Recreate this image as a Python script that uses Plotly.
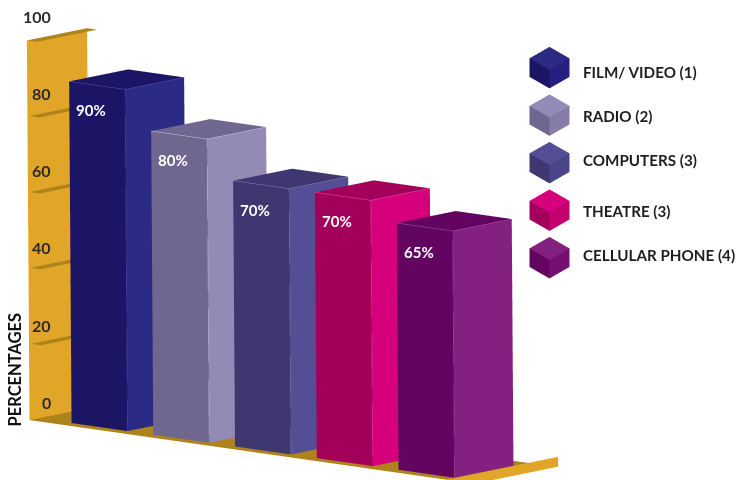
import plotly.graph_objects as go
import math

categories = ["FILM/ VIDEO (1)", "RADIO (2)", "COMPUTERS (3)", "THEATRE (3)", "CELLULAR PHONE (4)"]
values = [90, 80, 70, 70, 65]
value_labels = ["90%", "80%", "70%", "70%", "65%"]
tick_values = [100, 80, 60, 40, 20, 0]
front_colors = ["#1C1566", "#6F678F", "#3F3770", "#A3005C", "#640461"]
side_colors = ["#2B2A85", "#938BB5", "#544F95", "#D6007D", "#842080"]
legend_mid_colors = ["#232080", "#857CA8", "#4A4488", "#C4006F", "#751070"]
edge_colors = ["#5A58A8", "#D5D0E5", "#8F8BC0", "#E860A8", "#B060B0"]
WALL = "#E1A527"
FLOOR = "#AF831B"

EYE_LEN = 2.0
PX_PER_UNIT = 400 / 1.696
PAGE = 8  # the page's own margin round the figure
FIG_W, FIG_H = 748 - PAGE, 480 - PAGE
LEAN = 0.00045  # verticals converge slightly downward in the reference


def prism(x0, x1, y0, y1, z0, z1, front, side, top, lean=0.0):
    vx = [x0, x1, x1, x0, x0, x1, x1, x0]
    vy = [y0, y0, y1, y1, y0 - lean, y0 - lean, y1 - lean, y1 - lean]
    vz = [z0, z0, z0, z0, z1, z1, z1, z1]
    tris = [(0, 1, 5, front), (0, 5, 4, front),
            (1, 2, 6, side), (1, 6, 5, side),
            (4, 5, 6, top), (4, 6, 7, top)]
    return vx, vy, vz, tris


def mesh(vx, vy, vz, tris, scene):
    return go.Mesh3d(
        x=vx, y=vy, z=vz,
        i=[t[0] for t in tris], j=[t[1] for t in tris], k=[t[2] for t in tris],
        facecolor=[t[3] for t in tris], flatshading=True,
        lighting=dict(ambient=1, diffuse=0, specular=0, fresnel=0, roughness=1),
        hoverinfo="skip", showscale=False, scene=scene)


def quad(points, color, scene="scene"):
    vx, vy, vz = zip(*points)
    return mesh(list(vx), list(vy), list(vz), [(0, 1, 2, color), (0, 2, 3, color)], scene)


fig = go.Figure()

# wall, floor, ledges
WD = 1.02
FX = 7.44
top_lean = LEAN * max(tick_values)
fig.add_trace(quad([(0, 0, 0), (0, WD, 0), (0, WD - top_lean, 100), (0, -top_lean, 100)], WALL))
fig.add_trace(quad([(0, 0, 0), (FX, 0, 0), (FX, 1.39, 0), (0, 1.39, 0)], FLOOR))
fig.add_trace(mesh([FX, FX, FX, FX, FX], [0, 1.39, 1.9, 1.9, 0], [0, 0, 0, -2.6, -2.6],
                   [(0, 1, 4, WALL), (1, 3, 4, WALL), (1, 2, 3, WALL)], "scene"))
for v in tick_values:
    if v > 0:
        y0 = (0 if v == 100 else 0.03) - LEAN * v
        y1 = WD - LEAN * v
        fig.add_trace(quad([(0, y0, v), (0.18, y0, v), (0.18, y1, v), (0, y1, v)], FLOOR))

# bars
BX0, BY0, STEP = 0.595, 0.147, 1.46
annotations = []
for i, v in enumerate(values):
    x0 = BX0 + STEP * i
    lean = LEAN * v
    vx, vy, vz, tris = prism(x0, x0 + 1, BY0, BY0 + 1, 0, v, front_colors[i], side_colors[i], front_colors[i], lean)
    fig.add_trace(mesh(vx, vy, vz, tris, "scene"))
    fig.add_trace(go.Scatter3d(
        x=[x0, x0 + 1, x0 + 1, None, x0 + 1, x0 + 1],
        y=[BY0 - lean, BY0 - lean, BY0 + 1 - lean, None, BY0 - lean, BY0],
        z=[v, v, v, None, v, 0],
        mode="lines", line=dict(color=edge_colors[i], width=1),
        hoverinfo="skip", showlegend=False))
    annotations.append(dict(x=x0 + 0.39, y=BY0 - lean, z=v - 6.8, text=value_labels[i], showarrow=False,
                            font=dict(family="Lato", size=15, color="white", weight="bold")))

for v in tick_values:
    annotations.append(dict(x=0, y=0.397, z=v + 3.5 + 0.013 * v, text=str(v), showarrow=False, xanchor="right",
                            font=dict(family="Lato", size=16, color="#2B2B2B", weight="bold")))


def camera(tan_tau, sin_e):
    tau = math.atan(tan_tau)
    ce = math.sqrt(1 - sin_e ** 2)
    return dict(eye=dict(x=EYE_LEN * math.sin(tau) * ce, y=-EYE_LEN * math.cos(tau) * ce, z=EYE_LEN * sin_e),
                up=dict(x=0, y=0, z=1), center=dict(x=0, y=0, z=0),
                projection=dict(type="orthographic"))


hidden = dict(visible=False)
XR, YR, ZR = [-0.2, 10.54], [-0.1, 2.1], [-5, 113.08]
SX, SY, SZ = 73.0, 91.8, 3.856
scene_main = dict(
    domain=dict(x=[0, 1], y=[0, 1]), bgcolor="rgba(0,0,0,0)",
    xaxis=dict(range=XR, **hidden), yaxis=dict(range=YR, **hidden), zaxis=dict(range=ZR, **hidden),
    aspectmode="manual",
    aspectratio=dict(x=SX * (XR[1] - XR[0]) / PX_PER_UNIT, y=SY * (YR[1] - YR[0]) / PX_PER_UNIT,
                     z=SZ * (ZR[1] - ZR[0]) / PX_PER_UNIT),
    camera=camera(0.838, 0.1705), annotations=annotations)

# legend cubes
S_GAP = 2.568
for i in range(len(categories)):
    b = (len(categories) - 1 - i) * S_GAP
    vx, vy, vz, tris = prism(0, 1, 0, 1, b, b + 1, front_colors[i], legend_mid_colors[i], side_colors[i])
    fig.add_trace(mesh(vx, vy, vz, tris, "scene2"))

LZ = [1.24 - 13, 1.24 + 13]
scene_legend = dict(
    domain=dict(x=[0.6768, 0.7868], y=[0, 1]), bgcolor="rgba(0,0,0,0)",
    xaxis=dict(range=[-1, 2], **hidden), yaxis=dict(range=[-1, 2], **hidden), zaxis=dict(range=LZ, **hidden),
    aspectmode="manual",
    aspectratio=dict(x=28.3 * 3 / PX_PER_UNIT, y=28.3 * 3 / PX_PER_UNIT, z=22.6 * 26 / PX_PER_UNIT),
    camera=camera(1.0, 0.575))


def px(x):
    return (x - PAGE) / FIG_W


def py(y):
    return 1 - (y - PAGE) / FIG_H


legend_text_y = [72, 116, 160, 211, 255]
paper_notes = [dict(x=px(581), y=py(legend_text_y[i]), xref="paper", yref="paper", text=categories[i],
                    xanchor="left", yanchor="middle", showarrow=False,
                    font=dict(family="Lato", size=15.2, color="#1E1E1E", weight="bold"))
               for i in range(len(categories))]
paper_notes.append(dict(x=px(14.5), y=py(370), xref="paper", yref="paper", text="PERCENTAGES", textangle=-90,
                        xanchor="center", yanchor="middle", showarrow=False,
                        font=dict(family="Lato", size=16.5, color="#111111", weight="bold")))

fig.update_layout(width=FIG_W, height=FIG_H, margin=dict(l=0, r=0, t=0, b=0), paper_bgcolor="white",
                  showlegend=False, scene=scene_main, scene2=scene_legend, annotations=paper_notes)
fig.write_html("out.html")
